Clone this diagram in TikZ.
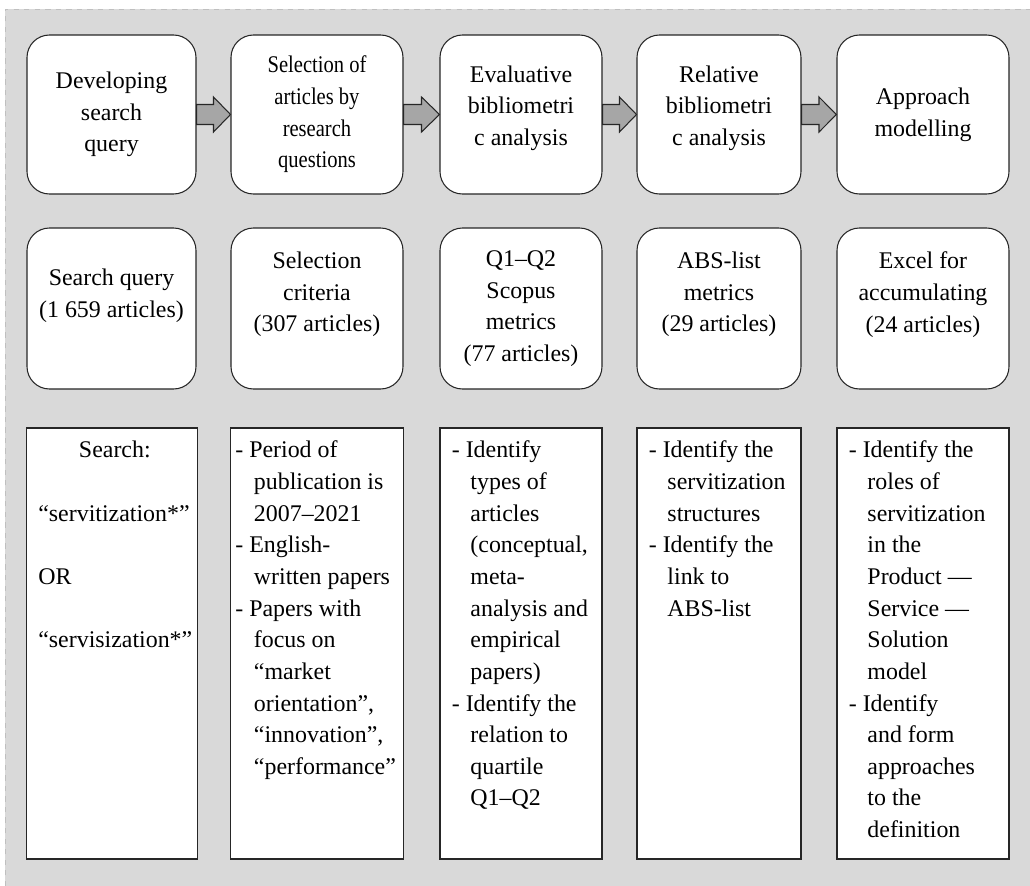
\documentclass[tikz,border=0pt]{standalone}
\usepackage{fontspec}
\setmainfont{Liberation Serif}
\newfontfamily\narrowfont[FakeStretch=0.86]{Liberation Serif}
\usepackage{xcolor}
\usepackage{tikz}
\usetikzlibrary{positioning,calc}
\definecolor{bggray}{HTML}{D9D9D9}
\definecolor{arrowgray}{HTML}{A6A6A6}
\newcommand{\listind}{\hspace*{0.78em}}

\begin{document}
\begin{tikzpicture}[
    stage/.style={draw=black!85, fill=white, rounded corners=0.45cm, line width=0.6pt},
    detail/.style={draw=black!85, fill=white, line width=0.6pt},
    txt/.style={align=center, inner sep=0pt, font=\fontsize{13.6}{18}\selectfont},
    listtxt/.style={align=left, inner sep=0pt, font=\fontsize{13.6}{18}\selectfont},
    barrow/.style={draw=black!85, fill=arrowgray, line width=0.6pt, line join=miter}
]
  \useasboundingbox (0,0) rectangle (20.6,-17.72);
  % Background
  \fill[bggray] (0.1,-0.18) rectangle (20.6,-17.72);
  \draw[black!25, dashed] (0.1,-17.72) -- (0.1,-0.18) -- (20.6,-0.18);

  % Row 1: stages
  \node[stage, minimum width=3.38cm, minimum height=3.18cm] (query) at (2.23,-2.29) {};
  \node[stage, minimum width=3.44cm, minimum height=3.18cm] (select) at (6.34,-2.29) {};
  \node[stage, minimum width=3.24cm, minimum height=3.18cm] (evalb) at (10.42,-2.29) {};
  \node[stage, minimum width=3.28cm, minimum height=3.18cm] (relb) at (14.38,-2.29) {};
  \node[stage, minimum width=3.44cm, minimum height=3.18cm] (model) at (18.46,-2.29) {};

  \node[txt] (queryt) at (query) {Developing\\search\\query};
  \node[txt, font=\narrowfont\fontsize{13.6}{18}\selectfont] (selectt) at (select) {Selection of\\articles by\\research\\questions};
  \node[txt, yshift=0.13cm] (evalbt) at (evalb) {Evaluative\\bibliometri\\c analysis};
  \node[txt, yshift=0.13cm] (relbt) at (relb) {Relative\\bibliometri\\c analysis};
  \node[txt] (modelt) at (model) {Approach\\modelling};

  % Block arrows between stages
  \foreach \a/\b in {query/select, select/evalb, evalb/relb, relb/model}
    \draw[barrow] ($(\a.east)+(0,0.2)$) -- ($(\a.east)!0.5!(\b.west)+(0,0.2)$)
      -- ($(\a.east)!0.5!(\b.west)+(0,0.35)$) -- (\b.west)
      -- ($(\a.east)!0.5!(\b.west)+(0,-0.35)$) -- ($(\a.east)!0.5!(\b.west)+(0,-0.2)$)
      -- ($(\a.east)+(0,-0.2)$) -- cycle;

  % Row 2: results
  \node[stage, minimum width=3.38cm, minimum height=3.22cm] (squery) at (2.23,-6.17) {};
  \node[stage, minimum width=3.44cm, minimum height=3.22cm] (crit) at (6.34,-6.17) {};
  \node[stage, minimum width=3.24cm, minimum height=3.22cm] (scopus) at (10.42,-6.17) {};
  \node[stage, minimum width=3.28cm, minimum height=3.22cm] (abs) at (14.38,-6.17) {};
  \node[stage, minimum width=3.44cm, minimum height=3.22cm] (excel) at (18.46,-6.17) {};

  \node[txt, yshift=0.25cm] (squeryt) at (squery) {Search query\\(1 659 articles)};
  \node[txt, yshift=0.28cm] (critt) at (crit) {Selection\\criteria\\(307 articles)};
  \node[txt] (scopust) at (scopus) {Q1–Q2\\Scopus\\metrics\\(77 articles)};
  \node[txt, yshift=0.28cm] (abst) at (abs) {ABS-list\\metrics\\(29 articles)};
  \node[txt, yshift=0.28cm] (excelt) at (excel) {Excel for\\accumulating\\(24 articles)};

  % Row 3: details
  \node[detail, minimum width=3.42cm, minimum height=8.62cm] (searchd) at (2.24,-12.87) {};
  \node[detail, minimum width=3.46cm, minimum height=8.62cm] (critd) at (6.34,-12.87) {};
  \node[detail, minimum width=3.24cm, minimum height=8.62cm] (scopusd) at (10.42,-12.87) {};
  \node[detail, minimum width=3.28cm, minimum height=8.62cm] (absd) at (14.38,-12.87) {};
  \node[detail, minimum width=3.44cm, minimum height=8.62cm] (exceld) at (18.46,-12.87) {};

  \node[listtxt, text width=3.06cm, below right=0.16cm and 0.24cm of searchd.north west] (searcht)
    {\strut\makebox[3.06cm]{Search:}\\[18pt]
     “servitization*”\\[18pt]
     OR\\[18pt]
     “servisization*”};
  \node[listtxt, below right=0.16cm and 0.1cm of critd.north west] (critdt)
    {\strut- Period of\\
     \listind publication is\\
     \listind 2007–2021\\
     - English-\\
     \listind written papers\\
     - Papers with\\
     \listind focus on\\
     \listind “market\\
     \listind orientation”,\\
     \listind “innovation”,\\
     \listind “performance”};
  \node[listtxt, below right=0.16cm and 0.24cm of scopusd.north west] (scopusdt)
    {\strut- Identify\\
     \listind types of\\
     \listind articles\\
     \listind (conceptual,\\
     \listind meta-\\
     \listind analysis and\\
     \listind empirical\\
     \listind papers)\\
     - Identify the\\
     \listind relation to\\
     \listind quartile\\
     \listind Q1–Q2};
  \node[listtxt, below right=0.16cm and 0.24cm of absd.north west] (absdt)
    {\strut- Identify the\\
     \listind servitization\\
     \listind structures\\
     - Identify the\\
     \listind link to\\
     \listind ABS-list};
  \node[listtxt, below right=0.16cm and 0.24cm of exceld.north west] (exceldt)
    {\strut- Identify the\\
     \listind roles of\\
     \listind servitization\\
     \listind in the\\
     \listind Product —\\
     \listind Service —\\
     \listind Solution\\
     \listind model\\
     - Identify\\
     \listind and form\\
     \listind approaches\\
     \listind to the\\
     \listind definition};
\end{tikzpicture}
\end{document}
